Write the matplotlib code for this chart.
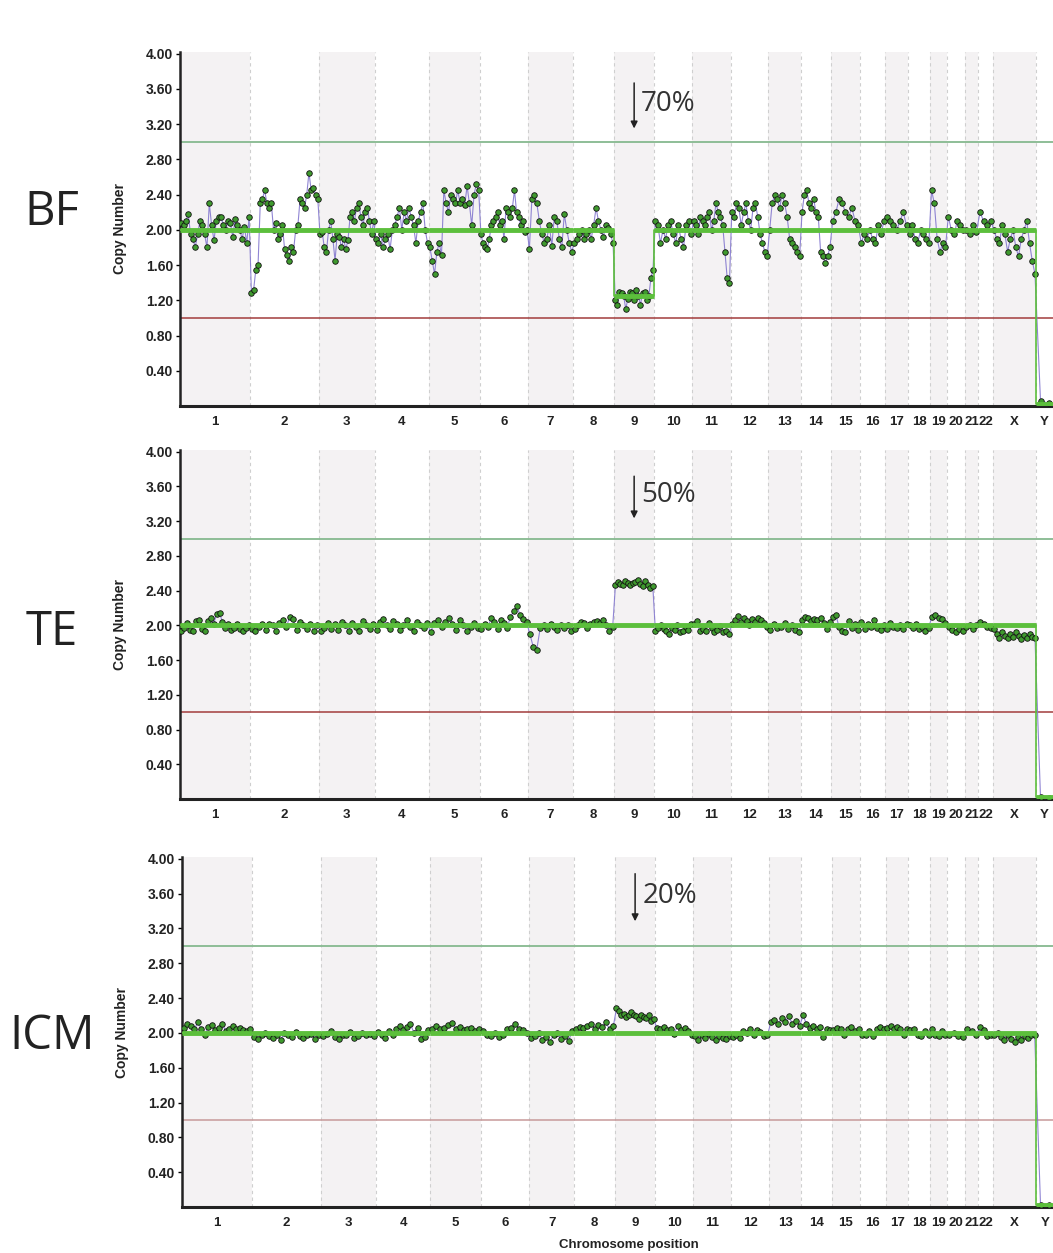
import numpy as np
import matplotlib
matplotlib.use('Agg')
import matplotlib.pyplot as plt

plt.rcParams['font.family'] = ['Liberation Sans Narrow', 'Liberation Sans', 'DejaVu Sans']

# chromosome names and lengths (Mb)
chroms = ['1', '2', '3', '4', '5', '6', '7', '8', '9', '10', '11', '12', '13', '14',
          '15', '16', '17', '18', '19', '20', '21', '22', 'X', 'Y']
chrom_len = [249, 243, 198, 191, 181, 171, 159, 146, 141, 136, 135, 134, 115, 107,
             102, 90, 81, 78, 59, 63, 48, 51, 155, 59]

# copy number readings per chromosome
bf_points = [
    [2.08, 2.05, 2.10, 2.18, 1.95, 1.90, 1.80, 1.95, 2.10, 2.05, 1.95, 1.80, 2.30, 2.05, 1.88,
     2.10, 2.15, 2.15, 2.05, 2.00, 2.10, 2.08, 1.92, 2.12, 2.05, 2.00, 1.90, 2.03, 1.85, 2.15],
    [1.28, 1.32, 1.55, 1.60, 2.30, 2.35, 2.45, 2.30, 2.25, 2.30, 2.00, 2.08, 1.90, 1.95, 2.05,
     1.78, 1.72, 1.65, 1.80, 1.75, 2.00, 2.05, 2.35, 2.30, 2.25, 2.40, 2.65, 2.45, 2.48, 2.40, 2.35],
    [1.95, 1.98, 1.80, 1.75, 2.00, 2.10, 1.90, 1.65, 1.95, 1.92, 1.80, 1.90, 1.78, 1.88, 2.15,
     2.20, 2.10, 2.25, 2.30, 2.15, 2.05, 2.20, 2.25, 2.10, 1.95, 2.10],
    [1.90, 1.85, 1.95, 1.80, 1.90, 1.95, 1.78, 2.00, 2.05, 2.15, 2.25, 2.00, 2.20, 2.10, 2.25,
     2.15, 2.05, 1.85, 2.10, 2.20, 2.30, 2.00, 1.85],
    [1.80, 1.65, 1.50, 1.75, 1.85, 1.72, 2.45, 2.30, 2.20, 2.40, 2.35, 2.30, 2.45, 2.30, 2.35,
     2.28, 2.50, 2.30, 2.05, 2.40, 2.52, 2.45],
    [1.95, 1.85, 1.80, 1.78, 1.90, 2.05, 2.10, 2.15, 2.20, 2.05, 2.10, 1.90, 2.25, 2.20, 2.15,
     2.25, 2.45, 2.20, 2.15, 2.05, 2.10, 1.98, 2.00],
    [1.78, 2.35, 2.40, 2.30, 2.10, 1.95, 1.85, 1.90, 2.05, 1.82, 2.15, 2.10, 1.90, 1.80, 2.18,
     2.00, 1.85, 1.75],
    [1.85, 1.90, 1.95, 2.00, 1.90, 1.95, 2.00, 1.90, 2.05, 2.25, 2.10, 2.00, 1.92, 2.05, 2.02,
     1.95, 1.85],
    [1.20, 1.15, 1.30, 1.28, 1.25, 1.10, 1.22, 1.30, 1.28, 1.20, 1.32, 1.25, 1.15, 1.28, 1.30,
     1.20, 1.25, 1.45, 1.55],
    [2.10, 2.05, 1.85, 2.00, 1.90, 2.05, 2.10, 1.95, 1.85, 2.05, 1.90, 1.80, 2.05, 2.10, 1.95],
    [2.10, 2.05, 1.95, 2.15, 2.10, 2.05, 2.15, 2.20, 2.00, 2.10, 2.30, 2.20, 2.15, 2.05, 1.75,
     1.45, 1.40],
    [2.20, 2.15, 2.30, 2.25, 2.05, 2.20, 2.30, 2.10, 2.00, 2.25, 2.30, 2.15, 1.95, 1.85, 1.75, 1.70],
    [2.00, 2.30, 2.40, 2.35, 2.25, 2.40, 2.30, 2.15, 1.90, 1.85, 1.80, 1.75, 1.70],
    [2.20, 2.40, 2.45, 2.30, 2.25, 2.35, 2.20, 2.15, 1.75, 1.70, 1.62, 1.70, 1.80],
    [2.10, 2.20, 2.35, 2.30, 2.20, 2.15, 2.25, 2.10, 2.05],
    [1.85, 1.95, 1.90, 2.00, 1.90, 1.85, 2.05, 1.95, 2.10],
    [2.15, 2.10, 2.05, 2.00, 2.10, 2.20, 2.05],
    [1.95, 2.05, 1.90, 1.85, 2.00, 1.95, 1.90, 1.85],
    [2.45, 2.30, 1.90, 1.75, 1.85, 1.80],
    [2.15, 2.00, 1.95, 2.10, 2.05, 2.00],
    [2.00, 1.95, 2.05, 1.98],
    [2.20, 2.10, 2.05, 2.10],
    [2.00, 1.90, 1.85, 2.05, 1.95, 1.75, 1.90, 2.00, 1.80, 1.70, 1.90, 2.00, 2.10, 1.85, 1.65, 1.50],
    [0.06, 0.03],
]
te_points = [
    [1.93, 1.97, 2.03, 1.95, 1.94, 2.05, 2.06, 1.96, 1.93, 2.05, 2.08, 2.02, 2.13, 2.14, 2.04,
     1.97, 2.02, 1.95, 1.97, 2.02, 1.96, 1.93, 1.97, 2.01],
    [1.96, 1.94, 1.98, 2.02, 1.95, 2.02, 2.00, 1.94, 2.03, 2.06, 1.98, 2.10, 2.07, 1.95, 2.04,
     2.00, 1.96, 2.02, 1.94, 2.01],
    [1.93, 1.97, 2.03, 1.96, 2.02, 1.95, 2.04, 2.00, 1.94, 2.03, 1.98, 1.93, 2.05, 2.00, 1.96, 2.02],
    [1.95, 2.04, 2.07, 2.00, 1.96, 2.05, 2.02, 1.95, 2.01, 2.06, 1.98, 1.93, 2.04, 2.00, 1.97, 2.03],
    [1.92, 2.03, 2.06, 1.98, 2.04, 2.08, 2.02, 1.95, 2.06, 2.01, 1.93, 1.98, 2.03, 1.97],
    [1.96, 2.02, 1.98, 2.08, 2.04, 1.96, 2.06, 2.03, 1.97, 2.10, 2.16, 2.22, 2.12, 2.07, 2.04],
    [1.90, 1.75, 1.72, 1.97, 2.01, 1.96, 2.02, 1.98, 1.95, 2.01, 1.97, 2.00, 1.94],
    [1.96, 2.01, 2.04, 2.03, 1.97, 2.02, 2.04, 2.05, 2.03, 2.06, 2.01, 1.93, 1.98],
    [2.47, 2.50, 2.48, 2.46, 2.51, 2.49, 2.47, 2.49, 2.50, 2.52, 2.48, 2.45, 2.51, 2.47, 2.43, 2.45],
    [1.93, 1.97, 2.01, 1.96, 1.93, 1.90, 1.97, 1.95, 2.00, 1.92, 1.94, 1.98, 1.95, 2.02],
    [2.02, 2.05, 1.93, 1.96, 1.94, 2.03, 1.97, 1.92, 1.95, 1.99, 1.92, 1.94, 1.90],
    [2.02, 2.06, 2.11, 2.04, 2.08, 2.05, 2.01, 2.07, 2.04, 2.09, 2.06, 2.03, 1.98],
    [1.95, 2.02, 1.97, 1.98, 2.03, 1.96, 2.01, 1.95, 1.92],
    [2.06, 2.10, 2.08, 2.05, 2.07, 2.06, 2.08, 2.03, 1.96, 2.04],
    [2.10, 2.12, 1.98, 1.94, 1.92, 2.05, 1.97, 2.02, 1.95],
    [2.04, 1.96, 2.02, 1.98, 2.06, 1.97, 1.95, 2.00],
    [1.96, 2.03, 1.98, 1.97, 2.01, 1.96, 2.02],
    [2.00, 1.97, 2.02, 1.96, 1.98, 1.93, 1.97],
    [2.10, 2.12, 2.08, 2.07, 2.03],
    [1.98, 1.95, 1.92, 1.96, 1.93],
    [1.98, 2.00, 1.96, 2.00],
    [2.04, 2.02, 1.98, 1.97],
    [1.96, 1.90, 1.86, 1.92, 1.88, 1.85, 1.90, 1.87, 1.92, 1.88, 1.84, 1.89, 1.86, 1.90, 1.87, 1.85],
    [0.02, 0.01],
]
icm_points = [
    [2.06, 2.10, 2.08, 2.04, 2.12, 2.05, 1.97, 2.07, 2.09, 2.03, 2.06, 2.10, 2.02, 2.04, 2.08,
     2.05, 2.06, 2.03, 2.02, 2.04],
    [1.95, 1.93, 1.98, 2.00, 1.96, 1.94, 1.98, 1.92, 2.00, 1.97, 1.95, 2.01, 1.96, 1.94, 1.97,
     1.99, 1.93, 1.97],
    [1.96, 1.99, 2.02, 1.95, 1.93, 1.98, 1.97, 2.01, 1.94, 1.96, 2.00, 1.97, 1.99, 1.96],
    [2.01, 1.97, 1.94, 2.02, 1.98, 2.05, 2.08, 2.03, 2.07, 2.10, 2.00, 2.06, 1.93, 1.95, 2.03],
    [2.05, 2.08, 2.04, 2.06, 2.09, 2.11, 2.05, 2.07, 2.03, 2.04, 2.06, 2.02, 2.05],
    [2.02, 1.98, 1.96, 2.00, 1.95, 1.97, 2.04, 2.06, 2.10, 2.05, 2.03, 2.00],
    [1.94, 1.96, 2.00, 1.92, 1.95, 1.90, 1.97, 2.00, 1.93, 1.96, 1.91, 2.02],
    [2.04, 2.07, 2.06, 2.08, 2.10, 2.05, 2.09, 2.07, 2.12, 2.04, 2.08],
    [2.28, 2.25, 2.20, 2.22, 2.18, 2.20, 2.24, 2.20, 2.19, 2.16, 2.21, 2.18, 2.17, 2.20, 2.14, 2.16],
    [2.06, 2.04, 2.07, 2.03, 2.05, 1.99, 2.08, 2.03, 2.06, 2.02, 1.98],
    [1.96, 1.92, 1.97, 1.94, 1.99, 1.95, 1.92, 1.96, 1.94, 1.93, 1.96],
    [1.95, 1.97, 1.94, 2.02, 2.00, 2.04, 1.98, 2.03, 2.01, 1.96, 1.97],
    [2.12, 2.15, 2.10, 2.17, 2.13, 2.19, 2.10, 2.14, 2.08],
    [2.20, 2.10, 2.06, 2.08, 2.04, 2.07, 1.95, 2.05, 2.03],
    [2.03, 2.06, 2.04, 1.98, 2.05, 2.07, 2.02, 2.04],
    [1.98, 1.97, 2.02, 1.96, 2.05, 2.07, 2.04],
    [2.06, 2.08, 2.04, 2.07, 2.05, 1.98, 2.04],
    [2.03, 2.05, 1.98, 1.96, 2.02, 1.97],
    [2.04, 1.98, 1.96, 2.02, 1.97],
    [1.97, 2.00, 1.96, 1.95],
    [2.05, 2.02, 1.97],
    [2.07, 2.03, 1.96, 1.98],
    [1.97, 2.00, 1.95, 1.92, 1.97, 1.93, 1.90, 1.95, 1.92, 1.96, 1.94, 1.98, 1.97],
    [0.02, 0.02],
]

# segment (called) copy number per chromosome
bf_seg = [2.0, 2.0, 2.0, 2.0, 2.0, 2.0, 2.0, 2.0, 1.25, 2.0, 2.0, 2.0, 2.0, 2.0,
          2.0, 2.0, 2.0, 2.0, 2.0, 2.0, 2.0, 2.0, 2.0, 0.02]
te_seg = [2.0, 2.0, 2.0, 2.0, 2.0, 2.0, 2.0, 2.0, 2.0, 2.0, 2.0, 2.0, 2.0, 2.0,
          2.0, 2.0, 2.0, 2.0, 2.0, 2.0, 2.0, 2.0, 2.0, 0.02]
icm_seg = [2.0, 2.0, 2.0, 2.0, 2.0, 2.0, 2.0, 2.0, 2.0, 2.0, 2.0, 2.0, 2.0, 2.0,
           2.0, 2.0, 2.0, 2.0, 2.0, 2.0, 2.0, 2.0, 2.0, 0.02]

samples = ['BF', 'TE', 'ICM']
mosaic = ['70%', '50%', '20%']
yticks = [0.40, 0.80, 1.20, 1.60, 2.00, 2.40, 2.80, 3.20, 3.60, 4.00]

W, H = 1053, 1253
fig = plt.figure(figsize=(W / 100, H / 100), dpi=100)

# axes boxes in pixels: left, top, bottom
boxes = [(180, 52, 406), (180, 450, 799), (182, 857, 1207)]
label_y = [212, 632, 1036]
arrow_pos = [(3.70, 3.12, 3.43), (3.75, 3.2, 3.5), (3.86, 3.25, 3.57)]
red_cols = ['#a23c3c', '#a23c3c', '#c79a9a']

starts = np.concatenate([[0], np.cumsum(chrom_len)[:-1]])
ends = np.cumsum(chrom_len)
total = ends[-1]

for p, (pts, seg) in enumerate(zip([bf_points, te_points, icm_points], [bf_seg, te_seg, icm_seg])):
    l, t, b = boxes[p]
    ax = fig.add_axes([l / W, 1 - b / H, (W - l) / W, (b - t) / H])
    ax.set_xlim(0, total)
    ax.set_ylim(0, 4.02)

    # alternating chromosome bands
    for i in range(len(chroms)):
        if i % 2 == 0:
            ax.axvspan(starts[i], ends[i], color='#f4f2f3', lw=0, zorder=0)
        if i > 0:
            ax.axvline(starts[i], color='#cfcfcf', lw=0.8, ls=(0, (3, 3)), zorder=1)

    ax.axhline(3.0, color='#86b98f', lw=1.3, zorder=2)
    ax.axhline(1.0, color=red_cols[p], lw=1.1, zorder=2)

    xs, ys = [], []
    for i, vals in enumerate(pts):
        n = len(vals)
        for k, v in enumerate(vals):
            xs.append(starts[i] + chrom_len[i] * (k + 0.5) / n)
            ys.append(v)
    ax.plot(xs, ys, color='#8478cf', lw=0.8, alpha=0.9, zorder=3)
    ax.plot(xs, ys, ls='none', marker='o', ms=4.0, mfc='#3f9a2e', mec='#111111', mew=0.6, zorder=4)

    # segment line: thin path, thick horizontals
    sx, sy = [], []
    for i in range(len(chroms)):
        sx += [starts[i], ends[i]]
        sy += [seg[i], seg[i]]
    ax.plot(sx, sy, color='#5cbf3c', lw=1.2, zorder=5)
    for i in range(len(chroms)):
        ax.plot([starts[i], ends[i]], [seg[i], seg[i]], color='#5cbf3c', lw=3.5,
                solid_capstyle='butt', zorder=5)

    for s in ['top', 'right']:
        ax.spines[s].set_visible(False)
    ax.spines['left'].set_linewidth(1.8)
    ax.spines['bottom'].set_linewidth(2.2)
    ax.spines['left'].set_color('#222222')
    ax.spines['bottom'].set_color('#222222')

    ax.set_yticks(yticks)
    ax.set_yticklabels(['%.2f' % v for v in yticks], fontsize=10, fontweight='bold', color='#222222')
    ax.tick_params(axis='y', length=3, width=1, pad=2)
    ax.set_xticks((starts + ends) / 2)
    ax.set_xticklabels(chroms, fontsize=9.5, fontweight='bold', color='#222222')
    ax.tick_params(axis='x', length=0, pad=7)

    ax.text(-0.069, 0.5, 'Copy Number', transform=ax.transAxes, rotation=90,
            ha='center', va='center', fontsize=10, fontweight='bold', color='#222222')

    # mosaic annotation over chromosome 9
    c9 = (starts[8] + ends[8]) / 2
    top, tip, ty = arrow_pos[p]
    ax.annotate('', xy=(c9, tip), xytext=(c9, top),
                arrowprops=dict(arrowstyle='-|>', color='#222222', lw=1.1, mutation_scale=10))
    ax.text(c9 + 25, ty, mosaic[p], fontsize=20, color='#333333', ha='left', va='center',
            family=['Open Sans', 'DejaVu Sans'])

    fig.text(52 / W, 1 - label_y[p] / H, samples[p], fontsize=34, color='#222222',
             ha='center', va='center', family=['Open Sans', 'DejaVu Sans'])

fig.text(629 / W, 1 - 1245 / H, 'Chromosome position', fontsize=9.5, fontweight='bold',
         ha='center', va='center', color='#222222')

fig.savefig('out.png', dpi=100)
